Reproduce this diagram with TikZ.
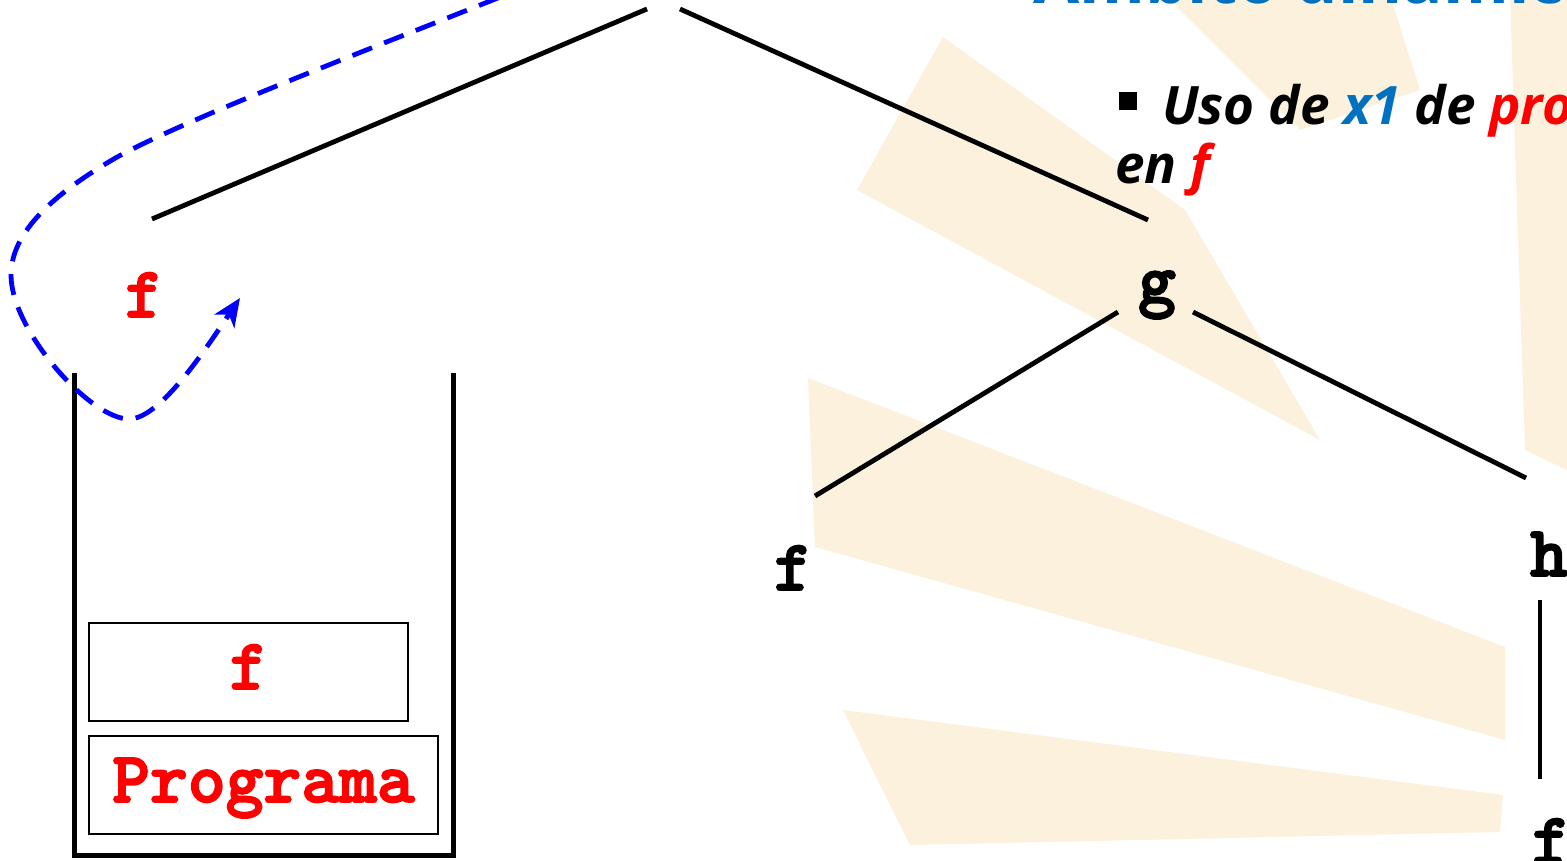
\documentclass[tikz,border=0pt]{standalone}
\usepackage{fontspec}
\setmainfont{Open Sans}
\newfontfamily\codefont{lmmonolt10-bold.otf}[FakeBold=2.5]
\usetikzlibrary{arrows.meta}
\definecolor{raycol}{RGB}{251,241,221}
\definecolor{ttlblue}{RGB}{0,112,192}
\definecolor{pred}{RGB}{255,0,0}
\definecolor{dblue}{RGB}{0,0,255}
\newcommand{\codefnt}{\codefont\fontsize{72}{72}\selectfont}
\tikzset{
  code/.style={font=\codefnt, inner sep=0pt, anchor=base},
  treeline/.style={line width=4.8pt, black},
  stackline/.style={line width=5pt, black},
  framebox/.style={draw, line width=1.8pt, inner sep=0pt, text height=40pt, text depth=6pt,
    font=\codefnt, text=pred},
  callpath/.style={dblue, line width=4.8pt, dash pattern=on 21pt off 13pt,
    -{Stealth[length=28pt,width=24pt,inset=8pt]}},
  raystyle/.style={fill=raycol, draw=none},
  bullettext/.style={anchor=base west, inner sep=0pt, font=\bfseries\itshape\fontsize{53}{53}\selectfont},
}
\begin{document}
\begin{tikzpicture}[x=1pt,y=-1pt]
\useasboundingbox (0,0) rectangle (1567,860);
% background rays
\fill[raystyle] (943,37) -- (1185,210) -- (1320,440) -- (857,190) -- cycle;
\fill[raystyle] (1165,-5) -- (1390,-5) -- (1420,90) -- (1300,130) -- cycle;
\fill[raystyle] (1510,-5) -- (1567,-5) -- (1567,470) -- (1525,450) -- cycle;
\fill[raystyle] (808,378) -- (1505,647) -- (1505,740) -- (815,547) -- cycle;
\fill[raystyle] (843,710) -- (1503,795) -- (1500,832) -- (910,845) -- cycle;

% title (cut off at top)
\node[anchor=base west, inner sep=0pt, text=ttlblue, font=\bfseries\fontsize{67}{67}\selectfont] (title) at (1033,3) {Ámbito dinámico};

% bullet text
\node[fill=black, minimum size=18pt, inner sep=0pt] (sq) at (1128,100.5) {};
\node[bullettext] (bul1) at (1162,124) {Uso de \textcolor{ttlblue}{x1} de \textcolor{pred}{programa}};
\node[bullettext] (bul2) at (1115,183) {en \textcolor{pred}{f}};

% tree labels
\node[code, text=pred] (fcur) at (144,317) {f};
\node[code] (g) at (1157,303) {g};
\node[code] (f2) at (793,590) {f};
\node[code] (h) at (1549,576) {h};
\node[code] (f3) at (1551,863) {f};

% tree connector ends
\coordinate (rootL) at (647,9);
\coordinate (rootR) at (680,9);
\coordinate (fTop) at (152,219);
\coordinate (gTop) at (1148,220);
\coordinate (gL) at (1118,312);
\coordinate (gR) at (1193,312);
\coordinate (f2Top) at (815,496);
\coordinate (hTop) at (1526,478);
\coordinate (hBot) at (1540,600);
\coordinate (f3Top) at (1540,779);

\draw[treeline] (rootL) -- (fTop);
\draw[treeline] (rootR) -- (gTop);
\draw[treeline] (gL) -- (f2Top);
\draw[treeline] (gR) -- (hTop);
\draw[treeline] (hBot) -- (f3Top);

% stack
\coordinate (stTL) at (74,373);
\coordinate (stBL) at (74,855);
\coordinate (stBR) at (453,855);
\coordinate (stTR) at (453,373);
\draw[stackline] (stTL) -- (stBL) -- (stBR) -- (stTR);
\node[framebox, minimum width=319pt, minimum height=98pt] (boxf) at (248.5,672) {f};
\node[framebox, minimum width=349pt, minimum height=98pt] (boxprog) at (263.5,785) {Programa};

% dashed call path
\coordinate (cs) at (530,-15);
\coordinate (c1) at (112,160);
\coordinate (c2) at (11,275);
\coordinate (c3) at (129,419);
\coordinate (ce) at (240,298);
\draw[callpath] (cs) .. controls (420,30) and (180,120) .. (c1)
  .. controls (70,185) and (11,225) .. (c2)
  .. controls (11,330) and (90,419) .. (c3)
  .. controls (160,419) and (205,350) .. (ce);
\end{tikzpicture}
\end{document}
